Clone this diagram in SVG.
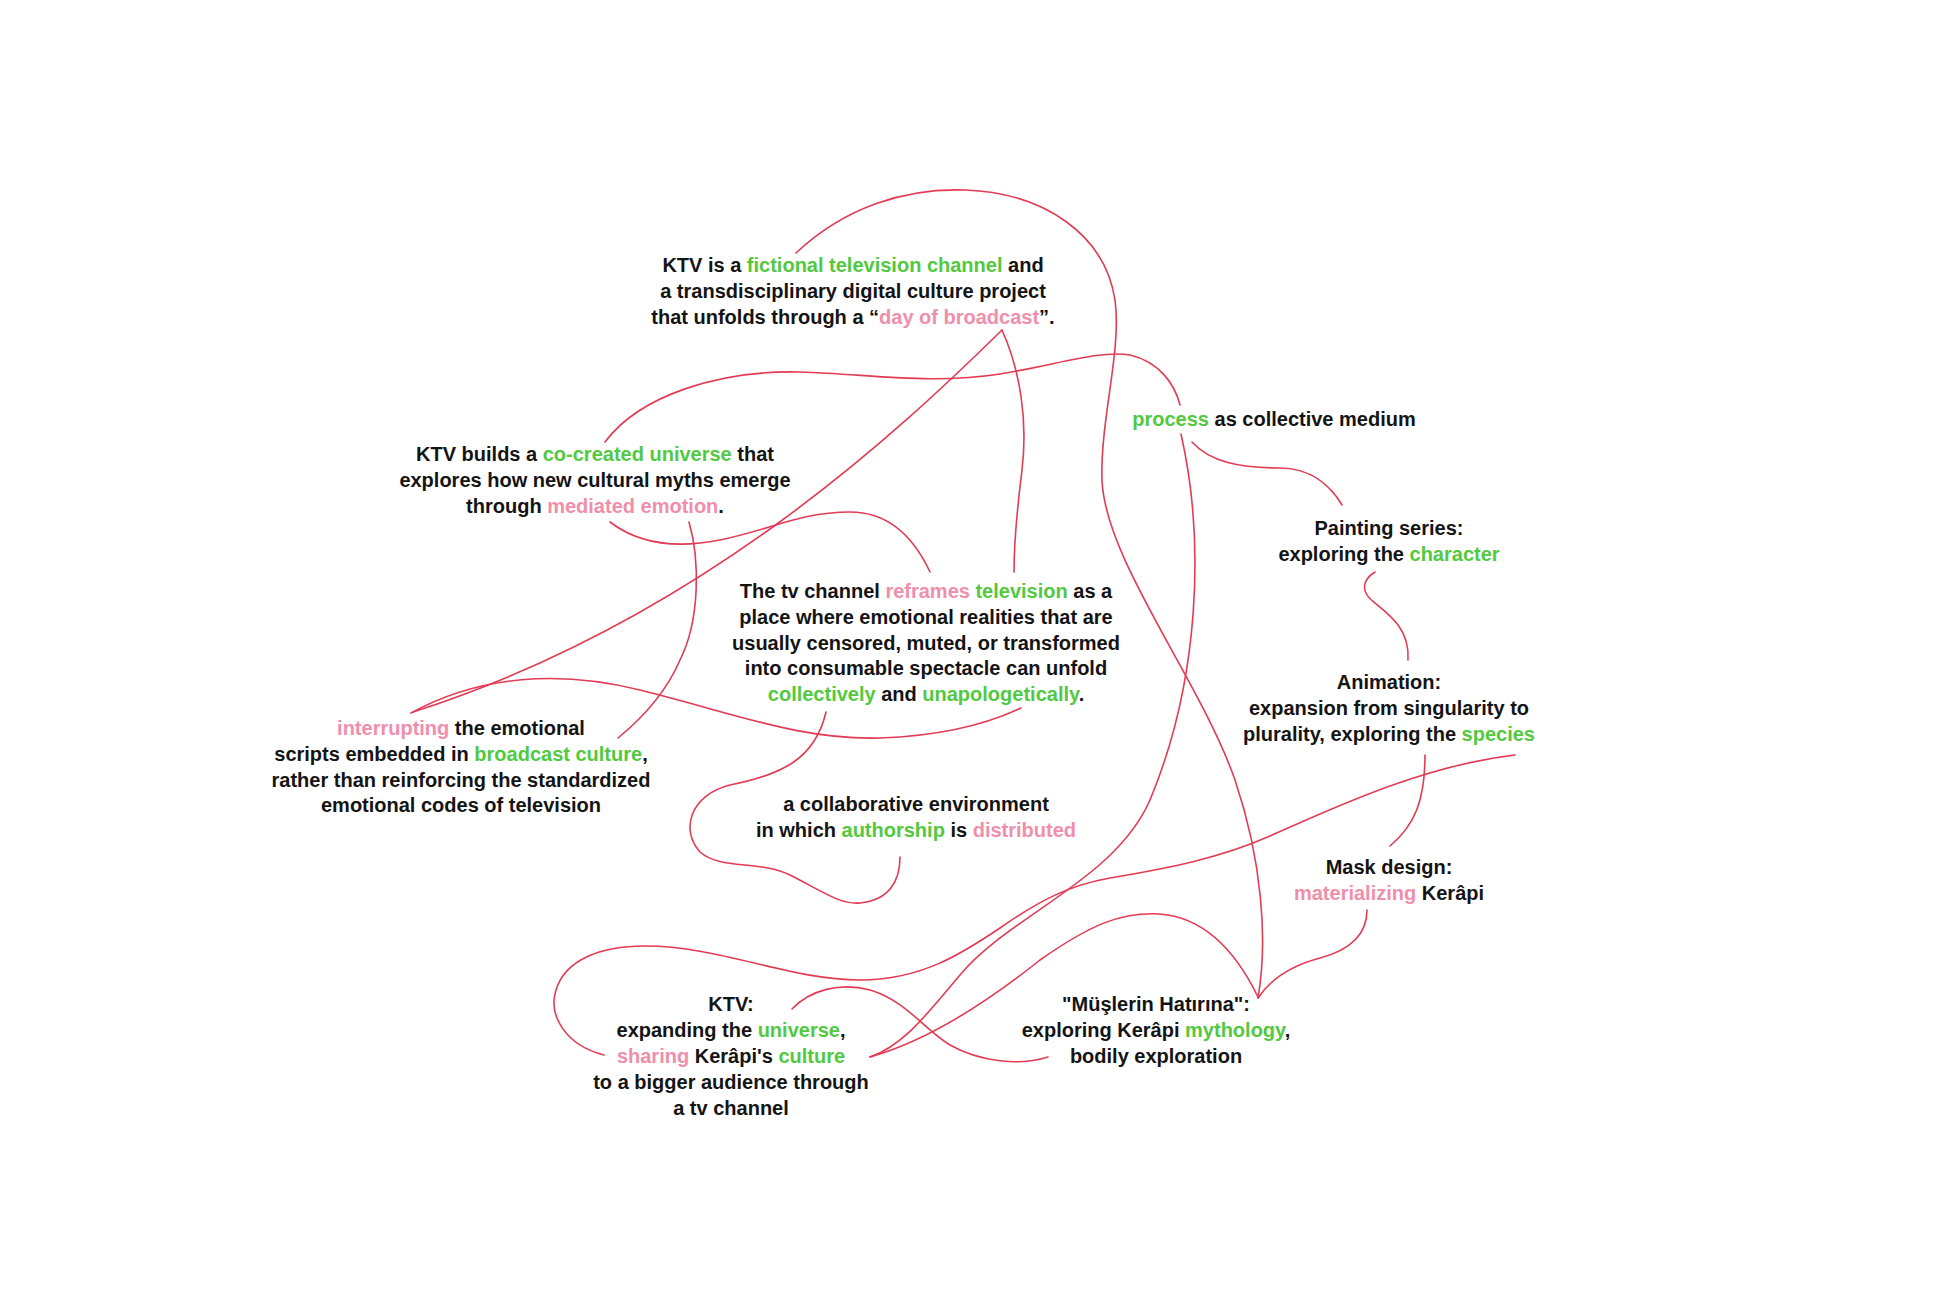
<svg xmlns="http://www.w3.org/2000/svg" width="1934" height="1308" viewBox="0 0 1934 1308">
<style>
  .bg { fill: #ffffff; }
  text { font-family: "Liberation Sans", Arial, sans-serif; font-weight: 700; font-size: 20px; fill: #141414; text-anchor: middle; }
  .g { fill: #52c93f; }
  .p { fill: #ef8fab; }
  .c { fill: none; stroke: #e23b54; stroke-width: 1.6; stroke-linecap: round; }
</style>
<rect class="bg" x="0" y="0" width="1934" height="1308"/>
<g id="connectors">
  <path id="A" class="c" d="M796,253 C845,207 905,188 965,190 C1045,193 1105,235 1115,300 C1122,350 1100,420 1102,480 C1105,560 1200,680 1235,780 C1262,860 1268,940 1258,998"/>
  <path id="B" class="c" d="M605,442 C640,395 720,370 800,372 C870,374 930,385 1000,374 C1060,364 1100,350 1130,355 C1160,362 1175,385 1180,405"/>
  <path id="C1" class="c" d="M1002,330 C900,430 700,620 413,712"/>
  <path id="C2" class="c" d="M1002,330 C1020,370 1028,420 1022,470 C1017,510 1014,540 1014,572"/>
  <path id="D" class="c" d="M411,713 C480,675 560,670 640,690 C740,715 800,740 880,738 C940,736 985,725 1021,708"/>
  <path id="E" class="c" d="M610,522 C640,545 680,548 720,540 C770,530 800,512 850,512 C890,512 915,540 930,572"/>
  <path id="F" class="c" d="M689,522 C700,560 700,620 680,660 C665,695 640,720 618,738"/>
  <path id="G" class="c" d="M826,712 C815,760 780,775 730,785 C690,795 680,830 700,852 C720,870 760,860 790,875 C820,890 840,905 860,903 C890,900 900,880 900,857"/>
  <path id="H" class="c" d="M1181,434 C1205,540 1200,680 1150,800 C1115,880 1010,915 960,975 C930,1010 905,1045 870,1057"/>
  <path id="P" class="c" d="M1192,442 C1210,462 1240,468 1280,468 C1310,468 1330,485 1342,505"/>
  <path id="O" class="c" d="M1408,660 C1410,630 1390,615 1375,603 C1360,592 1362,580 1375,572"/>
  <path id="N" class="c" d="M1390,846 C1415,825 1425,800 1425,755"/>
  <path id="M" class="c" d="M1258,998 C1270,980 1290,966 1320,958 C1350,950 1367,935 1367,910"/>
  <path id="K" class="c" d="M870,1057 C930,1040 990,1000 1040,960 C1090,925 1120,912 1160,914 C1210,918 1240,960 1258,997"/>
  <path id="L" class="c" d="M792,1009 C810,990 840,982 870,990 C905,1000 925,1030 950,1045 C980,1062 1020,1066 1048,1057"/>
  <path id="J" class="c" d="M604,1055 C565,1045 548,1015 556,990 C565,960 600,946 645,946 C720,946 790,980 860,980 C920,980 960,955 1000,928 C1040,900 1070,885 1110,878 C1170,868 1220,858 1270,836 C1350,800 1430,765 1515,755"/>
</g>
<g id="node-ktv-is">
  <text x="853" y="272">KTV is a <tspan class="g">fictional television channel</tspan> and</text>
  <text x="853" y="298">a transdisciplinary digital culture project</text>
  <text x="853" y="324">that unfolds through a “<tspan class="p">day of broadcast</tspan>”.</text>
</g>
<g id="node-ktv-builds">
  <text x="595" y="461">KTV builds a <tspan class="g">co-created universe</tspan> that</text>
  <text x="595" y="487">explores how new cultural myths emerge</text>
  <text x="595" y="513">through <tspan class="p">mediated emotion</tspan>.</text>
</g>
<g id="node-reframes">
  <text x="926" y="598">The tv channel <tspan class="p">reframes</tspan> <tspan class="g">television</tspan> as a</text>
  <text x="926" y="624">place where emotional realities that are</text>
  <text x="926" y="650">usually censored, muted, or transformed</text>
  <text x="926" y="675">into consumable spectacle can unfold</text>
  <text x="926" y="701"><tspan class="g">collectively</tspan> and <tspan class="g">unapologetically</tspan>.</text>
</g>
<g id="node-process">
  <text x="1274" y="426"><tspan class="g">process</tspan> as collective medium</text>
</g>
<g id="node-painting">
  <text x="1389" y="535">Painting series:</text>
  <text x="1389" y="561">exploring the <tspan class="g">character</tspan></text>
</g>
<g id="node-animation">
  <text x="1389" y="689">Animation:</text>
  <text x="1389" y="715">expansion from singularity to</text>
  <text x="1389" y="741">plurality, exploring the <tspan class="g">species</tspan></text>
</g>
<g id="node-mask">
  <text x="1389" y="874">Mask design:</text>
  <text x="1389" y="900"><tspan class="p">materializing</tspan> Kerâpi</text>
</g>
<g id="node-muslerin">
  <text x="1156" y="1011">"Müşlerin Hatırına":</text>
  <text x="1156" y="1037">exploring Kerâpi <tspan class="g">mythology</tspan>,</text>
  <text x="1156" y="1063">bodily exploration</text>
</g>
<g id="node-ktv-expanding">
  <text x="731" y="1011">KTV:</text>
  <text x="731" y="1037">expanding the <tspan class="g">universe</tspan>,</text>
  <text x="731" y="1063"><tspan class="p">sharing</tspan> Kerâpi's <tspan class="g">culture</tspan></text>
  <text x="731" y="1089">to a bigger audience through</text>
  <text x="731" y="1115">a tv channel</text>
</g>
<g id="node-collaborative">
  <text x="916" y="811">a collaborative environment</text>
  <text x="916" y="837">in which <tspan class="g">authorship</tspan> is <tspan class="p">distributed</tspan></text>
</g>
<g id="node-interrupting">
  <text x="461" y="735"><tspan class="p">interrupting</tspan> the emotional</text>
  <text x="461" y="761">scripts embedded in <tspan class="g">broadcast culture</tspan>,</text>
  <text x="461" y="787">rather than reinforcing the standardized</text>
  <text x="461" y="812">emotional codes of television</text>
</g>
</svg>
